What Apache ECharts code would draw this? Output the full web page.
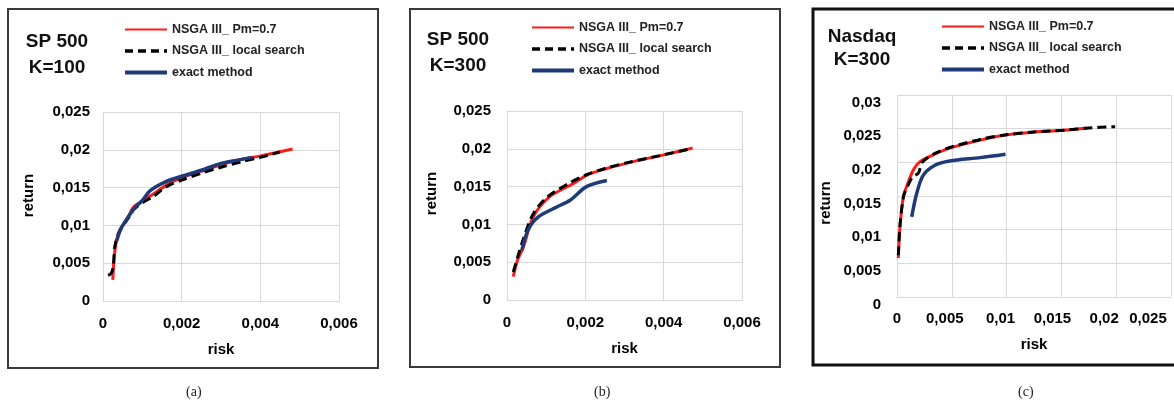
<!DOCTYPE html>
<html>
<head>
<meta charset="utf-8">
<script src="https://cdn.jsdelivr.net/npm/echarts@6/dist/echarts.min.js"></script>
<style>
  html, body { margin: 0; padding: 0; background: #fff; }
  #main { width: 1174px; height: 405px; }
</style>
</head>
<body>
<div id="main"></div>
<script>
var seriesNames = ['NSGA III_ Pm=0.7', 'NSGA III_ local search', 'exact method'];

// (a) SP 500, K=100  -- [risk, return]
var aPm = [[0.00025,0.0028],[0.00028,0.0055],[0.00033,0.0076],[0.00043,0.0094],[0.00064,0.0111],[0.00077,0.0124],[0.00103,0.0133],[0.00137,0.0145],[0.0017,0.0156],[0.002,0.0163],[0.00264,0.0174],[0.003,0.0180],[0.00348,0.0187],[0.004,0.0192],[0.00482,0.0201]];
var aLs = [[0.00013,0.0034],[0.0002,0.0036],[0.00026,0.0045],[0.0003,0.0072],[0.0004,0.0090],[0.00062,0.0108],[0.0008,0.0122],[0.001,0.0130],[0.0013,0.0139],[0.0016,0.0151],[0.002,0.0160],[0.0025,0.0169],[0.003,0.0177],[0.0035,0.0184],[0.004,0.0190],[0.0045,0.0197]];
var aEx = [[0.00035,0.0080],[0.00045,0.0095],[0.0006,0.0108],[0.0008,0.0123],[0.001,0.0133],[0.0012,0.0146],[0.0016,0.0158],[0.002,0.0165],[0.0025,0.0173],[0.003,0.0182],[0.0035,0.0187],[0.0038,0.0190]];

// (b) SP 500, K=300
var bPm = [[0.00016,0.0031],[0.00027,0.0053],[0.00042,0.0070],[0.00067,0.0110],[0.0011,0.0137],[0.0017,0.0154],[0.00203,0.0165],[0.00255,0.0174],[0.00322,0.0183],[0.004,0.0192],[0.00474,0.0201]];
var bLs = [[0.00016,0.0037],[0.00028,0.0058],[0.0004,0.0078],[0.00065,0.0112],[0.001,0.0135],[0.0016,0.0155],[0.002,0.0165],[0.0025,0.0174],[0.0031,0.0182],[0.0039,0.0191],[0.0047,0.0200]];
var bEx = [[0.00038,0.0066],[0.00054,0.0093],[0.0008,0.0110],[0.00127,0.0123],[0.00161,0.0132],[0.00203,0.0150],[0.00255,0.0158]];

// (c) Nasdaq, K=300
var cPm = [[0.00012,0.0058],[0.00027,0.0104],[0.00058,0.0149],[0.00088,0.0164],[0.0015,0.0189],[0.0021,0.0201],[0.0033,0.0211],[0.0048,0.0221],[0.0076,0.0233],[0.010,0.0241],[0.0125,0.0245],[0.0155,0.0248],[0.0173,0.0251]];
var cLs = [[0.00012,0.0062],[0.00027,0.0106],[0.0006,0.0150],[0.0009,0.0162],[0.0014,0.0178],[0.00195,0.0184],[0.0023,0.0200],[0.0033,0.0212],[0.0048,0.0222],[0.0076,0.0234],[0.010,0.0241],[0.0125,0.0245],[0.0155,0.0248],[0.0175,0.0251],[0.0199,0.0253]];
var cEx = [[0.00134,0.0119],[0.0018,0.0154],[0.0024,0.0181],[0.0035,0.0196],[0.0048,0.0202],[0.0076,0.0207],[0.0099,0.0212]];

var panelTitles = ['SP 500\nK=100', 'SP 500\nK=300', 'Nasdaq\nK=300'];
var captions = ['(a)', '(b)', '(c)'];

var myChart = echarts.init(document.getElementById('main'));
var font = 'Liberation Sans, Arial, sans-serif';
var gridColor = '#d9d9d9';
var red = '#ff1a1a', black = '#000', navy = '#1f3a78';

function comma(v) {
  return String(+v.toFixed(4)).replace('.', ',');
}

// label nudges for panel (c) x axis (Excel squeezes them left)
var cShift = [0, 14, 12, 18, 24, 46];
var cRich = {};
cShift.forEach(function (p, i) {
  cRich['p' + i] = { padding: [0, p, 0, 0], fontFamily: font, fontWeight: 'bold', fontSize: 15, color: '#000' };
});

function xAxis(idx, max, interval, gap, extra) {
  var ax = {
    type: 'value', gridIndex: idx, min: 0, max: max, interval: interval,
    name: 'risk', nameLocation: 'middle', nameGap: gap,
    nameTextStyle: { fontFamily: font, fontWeight: 'bold', fontSize: 15, color: '#000' },
    axisLine: { show: true, lineStyle: { color: gridColor } },
    axisTick: { show: false },
    splitLine: { show: true, lineStyle: { color: gridColor, width: 1 } },
    axisLabel: { margin: 15, fontFamily: font, fontWeight: 'bold', fontSize: 15, color: '#000', formatter: comma }
  };
  return Object.assign(ax, extra || {});
}

function yAxis(idx, max, gap, margin, namePad, extra) {
  var ax = {
    type: 'value', gridIndex: idx, min: 0, max: max, interval: 0.005,
    name: 'return', nameLocation: 'middle', nameGap: gap,
    nameTextStyle: { fontFamily: font, fontWeight: 'bold', fontSize: 15, color: '#000', padding: namePad },
    axisLine: { show: true, lineStyle: { color: gridColor } },
    axisTick: { show: false },
    splitLine: { show: true, lineStyle: { color: gridColor, width: 1 } },
    axisLabel: { margin: margin, fontFamily: font, fontWeight: 'bold', fontSize: 15, color: '#000', formatter: comma }
  };
  return Object.assign(ax, extra || {});
}

function lines(idx, pm, ls, ex) {
  return [
    { name: seriesNames[0], type: 'line', xAxisIndex: idx, yAxisIndex: idx, data: pm,
      symbol: 'none', smooth: 0.3, lineStyle: { color: red, width: 3 }, itemStyle: { color: red } },
    { name: seriesNames[1], type: 'line', xAxisIndex: idx, yAxisIndex: idx, data: ls,
      symbol: 'none', smooth: 0.3, lineStyle: { color: black, width: 3, type: [9, 5] }, itemStyle: { color: black } },
    { name: seriesNames[2], type: 'line', xAxisIndex: idx, yAxisIndex: idx, data: ex,
      symbol: 'none', smooth: 0.3, lineStyle: { color: navy, width: 3.5 }, itemStyle: { color: navy } }
  ];
}

function legend(left, top) {
  return {
    data: [
      { name: seriesNames[0], lineStyle: { color: red, width: 2 } },
      { name: seriesNames[1], lineStyle: { color: black, width: 3.5, type: [8, 5] } },
      { name: seriesNames[2], lineStyle: { color: navy, width: 4 } }
    ],
    orient: 'vertical', left: left, top: top,
    itemWidth: 42, itemHeight: 14, itemGap: 8.5, selectedMode: false,
    itemStyle: { opacity: 0 },
    textStyle: { fontFamily: font, fontWeight: 'bold', fontSize: 12.5, color: '#222' }
  };
}

function title(text, left, top, lh) {
  return {
    text: text, left: left, top: top, textAlign: 'center',
    textStyle: { fontFamily: font, fontWeight: 'bold', fontSize: 19, lineHeight: lh, color: '#111' }
  };
}

var option = {
  backgroundColor: '#fff',
  animation: false,
  title: [
    title(panelTitles[0], 52, 24, 26),
    title(panelTitles[1], 453, 22, 26),
    title(panelTitles[2], 857, 20, 23)
  ],
  legend: [legend(118, 18), legend(525, 16), legend(935, 15)],
  grid: [
    { left: 103, top: 112, width: 236, height: 189 },
    { left: 507, top: 111, width: 235, height: 189 },
    { left: 897, top: 95, width: 274, height: 202 }
  ],
  xAxis: [
    xAxis(0, 0.006, 0.002, 41),
    xAxis(1, 0.006, 0.002, 41),
    xAxis(2, 0.025, 0.005, 40, {
      axisLabel: {
        margin: 14,
        formatter: function (v, i) { return '{p' + i + '|' + comma(v) + '}'; },
        rich: cRich
      }
    })
  ],
  yAxis: [
    yAxis(0, 0.025, 67, 13, [0, 0, 0, 22]),
    yAxis(1, 0.025, 68, 16, [0, 0, 0, 24]),
    yAxis(2, 0.03, 64, 16, [0, 14, 0, 0], {
      axisLabel: { margin: 16, verticalAlign: 'top', fontFamily: font, fontWeight: 'bold', fontSize: 15, color: '#000', formatter: comma }
    })
  ],
  series: [].concat(lines(0, aPm, aLs, aEx), lines(1, bPm, bLs, bEx), lines(2, cPm, cLs, cEx)),
  graphic: [
    { type: 'rect', shape: { x: 8, y: 9, width: 370, height: 359 }, style: { fill: 'none', stroke: '#3a3a3a', lineWidth: 2 }, silent: true },
    { type: 'rect', shape: { x: 410, y: 9, width: 370, height: 358 }, style: { fill: 'none', stroke: '#3a3a3a', lineWidth: 2 }, silent: true },
    { type: 'rect', shape: { x: 813, y: 9, width: 370, height: 356 }, style: { fill: 'none', stroke: '#111', lineWidth: 3 }, silent: true },
    { type: 'text', left: 186, top: 385, style: { text: captions[0], font: '14px "Liberation Serif", "DejaVu Serif", serif', fill: '#222' } },
    { type: 'text', left: 594, top: 385, style: { text: captions[1], font: '14px "Liberation Serif", "DejaVu Serif", serif', fill: '#222' } },
    { type: 'text', left: 1018, top: 385, style: { text: captions[2], font: '14px "Liberation Serif", "DejaVu Serif", serif', fill: '#222' } }
  ]
};

myChart.setOption(option);
</script>
</body>
</html>
